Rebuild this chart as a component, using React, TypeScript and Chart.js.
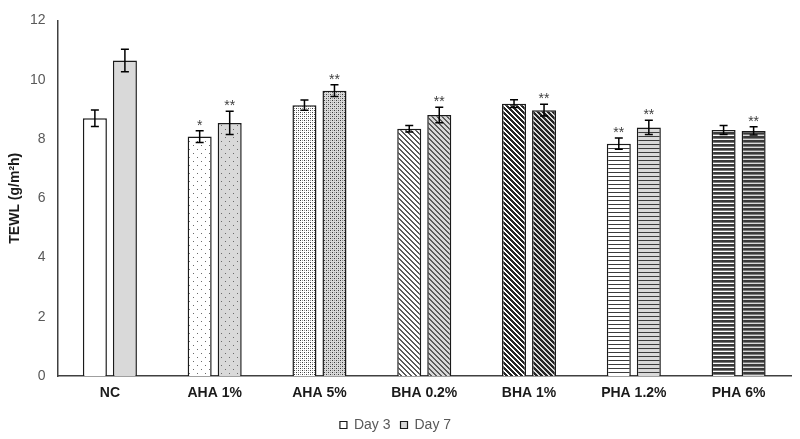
import React, { useEffect, useRef } from "react";
import { Chart, registerables } from "chart.js";

Chart.register(...registerables);

const categories = ["NC", "AHA 1%", "AHA 5%", "BHA 0.2%", "BHA 1%", "PHA 1.2%", "PHA 6%"];
const seriesLabels = ["Day 3", "Day 7"];
const day3Values = [8.7, 8.08, 9.14, 8.34, 9.19, 7.84, 8.3];
const day3Errors = [0.28, 0.2, 0.17, 0.11, 0.13, 0.19, 0.15];
const day7Values = [10.65, 8.54, 9.63, 8.81, 8.97, 8.39, 8.27];
const day7Errors = [0.38, 0.39, 0.2, 0.26, 0.2, 0.24, 0.14];
const day3Marks = ["", "*", "", "", "", "**", ""];
const day7Marks = ["", "**", "**", "**", "**", "**", "**"];
const yMin = 0;
const yMax = 12;
const yStep = 2;

const FONT = "'Liberation Sans', Arial, sans-serif";

type Painter = (x: number, y: number) => string | null;

function makePattern(size: number, bg: string, painter: Painter): CanvasPattern | string {
  const c = document.createElement("canvas");
  c.width = size;
  c.height = size;
  const ctx = c.getContext("2d");
  if (!ctx) return bg;
  ctx.fillStyle = bg;
  ctx.fillRect(0, 0, size, size);
  for (let y = 0; y < size; y++) {
    for (let x = 0; x < size; x++) {
      const col = painter(x, y);
      if (col) {
        ctx.fillStyle = col;
        ctx.fillRect(x, y, 1, 1);
      }
    }
  }
  const p = ctx.createPattern(c, "repeat");
  return p || bg;
}

const styleDefs: Array<[number, Painter]> = [
  [4, () => null],
  [8, (x, y) => ((x === 1 && y === 1) || (x === 5 && y === 5) ? "#6a6a6a" : null)],
  [4, (x, y) => ((x === 0 && y === 0) || (x === 2 && y === 2) ? "#3a3a3a" : (x === 0 && y === 2) || (x === 2 && y === 0) ? "#9a9a9a" : null)],
  [5, (x, y) => (((x - y + 10) % 5) < 2 ? "#5a5a5a" : null)],
  [5, (x, y) => (((x - y + 10) % 5) < 3 ? "#262626" : null)],
  [4, (x, y) => (y === 0 ? "#3c3c3c" : null)],
  [4, (x, y) => (y < 2 ? "#3a3a3a" : y === 2 ? "#7a7a7a" : null)],
];

function buildPatterns(bg: string) {
  return styleDefs.map(([size, painter]) => makePattern(size, bg, painter));
}

const errorPlugin = {
  id: "errorBars",
  afterDatasetsDraw(chart: any) {
    const ctx = chart.ctx;
    const yScale = chart.scales.y;
    const errs = [day3Errors, day7Errors];
    const vals = [day3Values, day7Values];
    const marks = [day3Marks, day7Marks];
    ctx.save();
    for (let d = 0; d < 2; d++) {
      const meta = chart.getDatasetMeta(d);
      meta.data.forEach((el: any, i: number) => {
        const v = vals[d][i];
        const e = errs[d][i];
        const x = el.x;
        const yt = yScale.getPixelForValue(v + e);
        const yb = yScale.getPixelForValue(v - e);
        ctx.strokeStyle = "#000";
        ctx.lineWidth = 1.5;
        ctx.beginPath();
        ctx.moveTo(x, yt);
        ctx.lineTo(x, yb);
        ctx.moveTo(x - 4, yt);
        ctx.lineTo(x + 4, yt);
        ctx.moveTo(x - 4, yb);
        ctx.lineTo(x + 4, yb);
        ctx.stroke();
        const m = marks[d][i];
        if (m) {
          ctx.fillStyle = "#404040";
          ctx.font = `14px ${FONT}`;
          ctx.textAlign = "center";
          ctx.textBaseline = "alphabetic";
          ctx.fillText(m, x, yt - 1);
        }
      });
    }
    ctx.restore();
  },
};

export default function App() {
  const ref = useRef<HTMLCanvasElement | null>(null);
  useEffect(() => {
    if (!ref.current) return;
    const p3 = buildPatterns("#ffffff");
    const p7 = buildPatterns("#d9d9d9");
    const chart = new Chart(ref.current, {
      type: "bar",
      data: {
        labels: categories,
        datasets: [
          {
            label: seriesLabels[0],
            data: day3Values,
            backgroundColor: p3 as any,
            borderColor: "#1a1a1a",
            borderWidth: 1.5,
            categoryPercentage: 0.573,
            barPercentage: 0.8,
          },
          {
            label: seriesLabels[1],
            data: day7Values,
            backgroundColor: p7 as any,
            borderColor: "#1a1a1a",
            borderWidth: 1.5,
            categoryPercentage: 0.573,
            barPercentage: 0.8,
          },
        ],
      },
      options: {
        responsive: false,
        animation: false,
        layout: { padding: { top: 13, right: 9, left: 0, bottom: -3 } },
        plugins: {
          tooltip: { enabled: false },
          legend: {
            position: "bottom",
            labels: {
              boxWidth: 7,
              boxHeight: 7,
              padding: 10,
              color: "#595959",
              font: { size: 14, family: FONT },
              generateLabels: () => [
                { text: seriesLabels[0], fillStyle: "#ffffff", strokeStyle: "#1a1a1a", lineWidth: 1.2, datasetIndex: 0, hidden: false, fontColor: "#595959" },
                { text: seriesLabels[1], fillStyle: "#d9d9d9", strokeStyle: "#1a1a1a", lineWidth: 1.2, datasetIndex: 1, hidden: false, fontColor: "#595959" },
              ],
            },
          },
        },
        scales: {
          x: {
            grid: { display: false, drawTicks: false },
            border: { display: true, color: "#404040", width: 1.5 },
            ticks: { color: "#1a1a1a", font: { size: 14, weight: "bold", family: FONT }, padding: 9 },
            afterFit: (s: any) => { s.height = 32; },
          },
          y: {
            min: yMin,
            max: yMax,
            grid: { display: false, drawTicks: false },
            border: { display: true, color: "#404040", width: 1.5 },
            ticks: { stepSize: yStep, color: "#595959", font: { size: 14, family: FONT }, padding: 12 },
            title: {
              display: true,
              text: "TEWL (g/m²h)",
              color: "#1a1a1a",
              font: { size: 14, weight: "bold", family: FONT },
              padding: { top: 7, bottom: 0 },
            },
            afterFit: (s: any) => { s.width = 57.5; },
          },
        },
      },
      plugins: [errorPlugin],
    });
    return () => chart.destroy();
  }, []);
  return (
    <div style={{ position: "absolute", left: 0, top: 0, width: 800, height: 439, background: "#fff" }}>
      <canvas ref={ref} width={800} height={439} style={{ display: "block" }} />
    </div>
  );
}
